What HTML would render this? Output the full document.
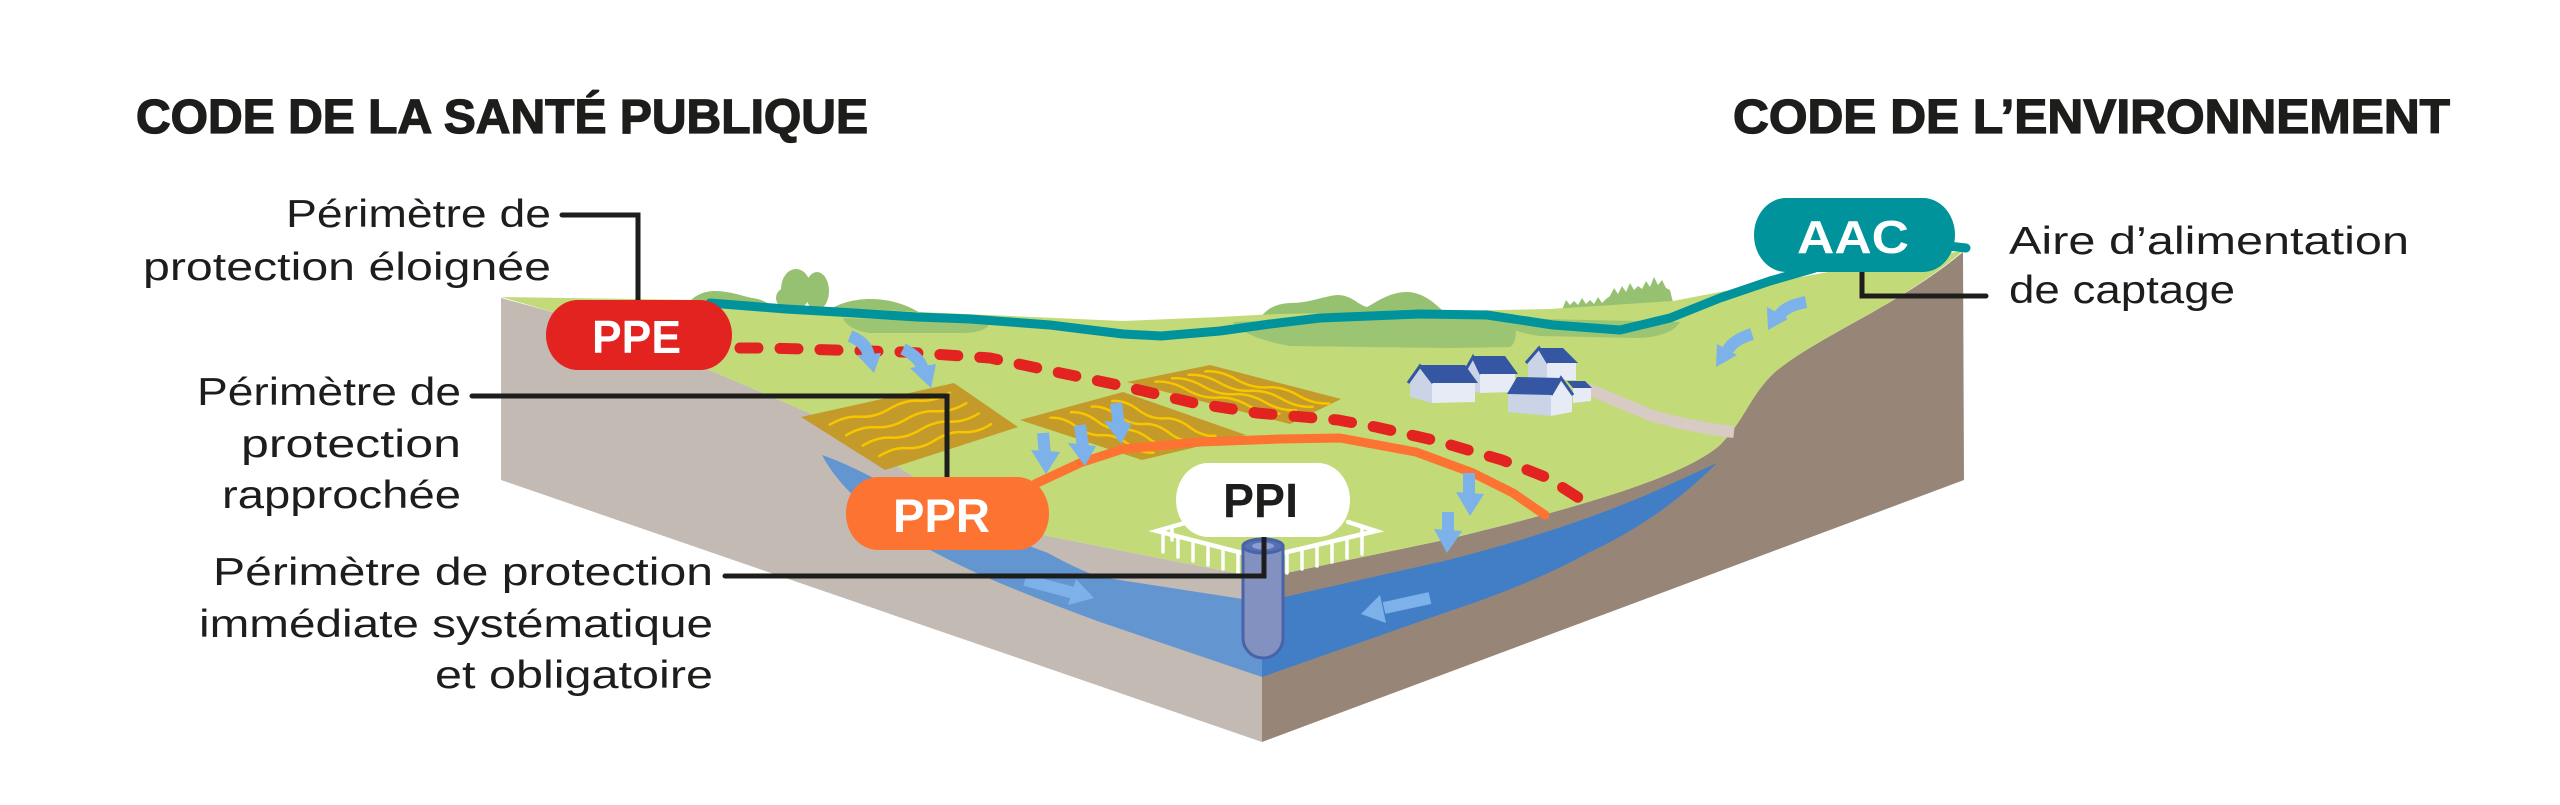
<!DOCTYPE html>
<html>
<head>
<meta charset="utf-8">
<style>
html,body{margin:0;padding:0;background:#ffffff;}
svg{display:block;}
</style>
</head>
<body>
<svg xmlns="http://www.w3.org/2000/svg" width="2560" height="805" viewBox="0 0 2560 805" font-family="'Liberation Sans', sans-serif">
<rect x="0" y="0" width="2560" height="805" fill="#ffffff"/>

<!-- Hills and trees behind horizon -->
<g fill="#96C171">
  <path d="M684,307 C694,295 704,291 715,291 C730,291 742,296 752,298 C760,299 766,301 774,308 Z"/>
  <path d="M826,312 C838,303 855,299 870,299 C890,299 906,304 922,314 Z"/>
  <ellipse cx="796" cy="289" rx="15" ry="20"/>
  <ellipse cx="786" cy="298" rx="10" ry="10"/>
  <ellipse cx="817" cy="291" rx="12" ry="19"/>
  <path d="M1256,324 C1264,311 1272,304 1290,303 C1310,303 1320,297 1337,295 C1352,295 1358,305 1367,307 C1378,301 1390,292 1407,292 C1420,292 1432,300 1444,312 Z"/>
  <polygon points="1560,315 1566,300 1570,305 1574,301 1578,305 1582,298 1586,304 1590,300 1594,304 1598,297 1602,303 1606,299 1610,296 1614,288 1618,294 1622,286 1626,292 1630,283 1634,290 1638,286 1642,289 1646,281 1650,287 1654,277 1658,285 1662,280 1666,288 1670,290 1676,315"/>
</g>

<!-- Left face -->
<polygon fill="#C3BAB3" points="501,298 560,314 650,345 740,383 837,425 903,470 960,505 1048,536 1169,560 1262,578 1262,742 501,480"/>
<!-- Right face -->
<path fill="#978678" d="M1262,578 L1444,540 C1560,512 1680,480 1720,445 C1745,420 1750,395 1775,372 C1820,335 1900,305 1963,252 L1964,480 L1262,742 Z"/>

<!-- Aquifer left face -->
<path fill="#6395D1" d="M822,455 C850,465 880,480 920,505 L1048,553 C1070,565 1085,572 1100,577 L1262,602 L1262,677 L1100,622 C1000,585 940,560 890,525 C860,505 835,480 822,455 Z"/>
<!-- Aquifer right face -->
<path fill="#417EC6" d="M1262,602 L1444,561 Q1560,532 1651,493 L1717,463 Q1660,520 1588,553 Q1530,585 1444,613 L1262,677 Z"/>

<!-- Green surface -->
<path fill="#C2DA77" d="M501,297 L700,300 L920,312 L1123,321 L1220,317 L1276,314 L1450,311 L1550,309 L1673,301 L1720,292 L1850,268 L1963,251 C1900,305 1820,335 1775,372 C1750,395 1745,420 1720,445 C1680,480 1560,512 1444,540 L1262,578 L1169,560 L1048,536 L960,505 L903,470 L837,425 L740,383 L650,345 L560,314 Z"/>

<!-- darker patches below the teal line -->
<g fill="#9CC573">
  <path d="M843,318 L990,322 Q988,332 965,333 L870,333 Q848,330 843,318 Z"/>
  <path d="M1233,322 L1513,314 Q1520,340 1510,347 L1453,348 L1290,346 Q1245,338 1233,322 Z"/>
  <path d="M1497,318 L1680,322 Q1672,336 1640,338 L1540,336 Q1505,331 1497,318 Z"/>
</g>

<!-- road -->
<path d="M1588,389 Q1617,401 1650,415 Q1690,427 1734,432" fill="none" stroke="#D7CBC3" stroke-width="12"/>

<!-- Fields -->
<g fill="#C49A2A">
  <polygon points="801,417 954,383 1018,427 885,470"/>
  <polygon points="1020,420 1123,392 1246,435 1142,460"/>
  <polygon points="1127,382 1210,365 1341,399 1290,424"/>
</g>
<g fill="none" stroke="#F7C600" stroke-width="2.5" stroke-linecap="round">
  <path d="M829.7,424.7 q15,-9 30,-8 t30,-8 t30,-8 t30,-8"/>
  <path d="M846.2,435.2 q15,-9 30,-8 t30,-8 t30,-8 t30,-8"/>
  <path d="M862.7,445.6 q15,-9 29,-8 t29,-8 t29,-8 t29,-8"/>
  <path d="M879.2,456.1 q14,-9 28,-8 t28,-8 t28,-8 t28,-8"/>
  <path d="M1112.2,401 q12.9,-1 25.8,8.7 t25.8,8.7 t25.8,8.7 t25.8,8.7"/>
  <path d="M1091.6,406.6 q12.9,-1 25.8,8.7 t25.8,8.7 t25.8,8.7 t25.8,8.7"/>
  <path d="M1071,412.2 q12.9,-1 25.8,8.7 t25.8,8.7 t25.8,8.7 t25.8,8.7"/>
  <path d="M1050.4,417.8 q12.9,-1 25.8,8.7 t25.8,8.7 t25.8,8.7 t25.8,8.7"/>
  <path d="M1205.2,371.4 q15.5,-1 31,8 t31,8 t31,8 t31,8"/>
  <path d="M1188.6,374.8 q15.5,-1 31,8 t31,8 t31,8 t31,8"/>
  <path d="M1172,378.2 q15.5,-1 31,8 t31,8 t31,8 t31,8"/>
  <path d="M1155.4,381.6 q15.5,-1 31,8 t31,8 t31,8 t31,8"/>
</g>

<!-- Houses -->
<g>
  <polygon fill="#CBD3E7" points="1528,362 1539,349 1547,362 1547,380 1528,377"/>
  <polygon fill="#E6EBF6" points="1547,362 1576,362 1576,380 1547,380"/>
  <polygon fill="#3456A3" points="1539,348 1563,348 1578,363 1547,363"/>
  <polyline fill="none" stroke="#3456A3" stroke-width="3" points="1526,363 1539,348 1548,363"/>
  <polygon fill="#CBD3E7" points="1467,370 1473,357 1480,373 1480,393 1467,390"/>
  <polygon fill="#E6EBF6" points="1480,373 1515,373 1515,392 1480,393"/>
  <polygon fill="#3456A3" points="1473,356 1505,356 1518,374 1480,374"/>
  <polyline fill="none" stroke="#3456A3" stroke-width="3" points="1465,371 1473,357 1481,374"/>
  <polygon fill="#CBD3E7" points="1410,382 1421,368 1432,382 1432,403 1410,397"/>
  <polygon fill="#E6EBF6" points="1432,382 1475,382 1475,402 1432,403"/>
  <polygon fill="#3456A3" points="1420,365 1465,365 1478,383 1432,383"/>
  <polyline fill="none" stroke="#3456A3" stroke-width="3" points="1408,383 1420,366 1433,383"/>
  <polygon fill="#3456A3" points="1567,381 1585,381 1592,388 1573,388"/>
  <polygon fill="#E6EBF6" points="1573,388 1591,388 1591,401 1573,403"/>
  <polygon fill="#CBD3E7" points="1508,394 1551,394 1551,416 1508,412"/>
  <polygon fill="#E6EBF6" points="1551,394 1561,380 1572,394 1572,412 1551,416"/>
  <polygon fill="#3456A3" points="1507,394 1517,377 1561,378 1552,395"/>
  <polyline fill="none" stroke="#3456A3" stroke-width="3" points="1551,395 1561,378 1573,395"/>
</g>

<!-- Teal AAC line -->
<polyline fill="none" stroke="#00939B" stroke-width="9" stroke-linejoin="round" stroke-linecap="round"
  points="710,303 786,309 855,313 917,317 970,319 1050,325 1123,334 1161,336 1220,331 1270,324 1320,318 1420,314 1487,315 1553,325 1620,330 1670,318 1720,298 1770,281 1815,268"/>
<path d="M1948,246 L1966,248" stroke="#00939B" stroke-width="9" stroke-linecap="round" fill="none"/>

<!-- Red dashed PPE line -->
<path fill="none" stroke="#E2231F" stroke-width="11" stroke-linecap="round" stroke-dasharray="18 22"
  d="M740,348 L766,348 L903,352 L990,358 L1056,372 L1118,385 L1194,403 L1257,413 L1338,420 L1376,427 L1433,440 L1444,443 L1502,460 L1548,478 L1585,502"/>

<!-- Orange PPR line -->
<polyline fill="none" stroke="#FD7332" stroke-width="9" stroke-linejoin="round" stroke-linecap="round"
  points="1035,484 1080,463 1123,449 1200,442 1280,439 1340,438 1416,452 1473,473 1513,493 1545,515"/>

<!-- Arrows -->
<g fill="#7CB1E9" stroke="none">
  <polygon points="1031,450 1060,452 1046,474"/>
  <polygon points="1068,443 1096,446 1085,466"/>
  <polygon points="1104,421 1132,423 1121,444"/>
  <polygon points="1456,492 1484,494 1470,516"/>
  <polygon points="1434,529 1462,531 1447,553"/>
  <polygon points="1068,605 1076,579 1094,598"/>
  <polygon points="1386,623 1380,595 1361,614"/>
  <polygon points="857,355 881,353 874,373"/>
  <polygon points="910,368 936,364 931,388"/>
  <polygon points="1788,319 1767,307 1768,330"/>
  <polygon points="1737,355 1717,344 1716,367"/>
</g>
<g fill="none" stroke="#7CB1E9" stroke-width="12">
  <path d="M1043,433 L1045,455"/>
  <path d="M1080,425 L1083,447"/>
  <path d="M1116,403 L1119,425"/>
  <path d="M1469,473 L1469,495"/>
  <path d="M1448,512 L1448,532"/>
  <path d="M1025,580 L1074,593"/>
  <path d="M1430,598 L1384,608"/>
  <path d="M850,336 Q868,343 869,358"/>
  <path d="M903,349 Q920,357 923,370"/>
  <path d="M1806,302 Q1785,306 1779,316"/>
  <path d="M1752,334 Q1733,340 1728,350"/>
</g>

<!-- Fence -->
<g stroke="#ffffff" fill="none" stroke-linecap="round">
  <polyline stroke-width="4.5" points="1188,522 1157,531 1262,558 1376,531 1348,522"/>
  <g stroke-width="3.5">
    <line x1="1163" y1="532.5" x2="1163" y2="552"/>
    <line x1="1178" y1="536.4" x2="1178" y2="557"/>
    <line x1="1193" y1="540.3" x2="1193" y2="561"/>
    <line x1="1208" y1="544.1" x2="1208" y2="565"/>
    <line x1="1223" y1="548" x2="1223" y2="569"/>
    <line x1="1238" y1="551.8" x2="1238" y2="573"/>
    <line x1="1253" y1="555.7" x2="1253" y2="577"/>
    <line x1="1272" y1="555.6" x2="1272" y2="577"/>
    <line x1="1287" y1="552.1" x2="1287" y2="573"/>
    <line x1="1302" y1="548.5" x2="1302" y2="569"/>
    <line x1="1317" y1="545" x2="1317" y2="566"/>
    <line x1="1332" y1="541.4" x2="1332" y2="562"/>
    <line x1="1347" y1="537.9" x2="1347" y2="558"/>
    <line x1="1362" y1="534.3" x2="1362" y2="554"/>
    <line x1="1172" y1="527" x2="1172" y2="540"/>
    <line x1="1362" y1="526" x2="1362" y2="536"/>
  </g>
</g>

<!-- Well pipe -->
<path d="M1243,546 L1243,638 A20,20 0 0 0 1283,638 L1283,546 Z" fill="#8391C0" stroke="#4A63A8" stroke-width="3"/>
<ellipse cx="1263" cy="546" rx="20" ry="7" fill="#5770B5" stroke="#4A63A8" stroke-width="3"/>
<ellipse cx="1263" cy="546" rx="11" ry="3.5" fill="#8C9ED0"/>

<!-- Connectors -->
<g fill="none" stroke="#1D1D1B" stroke-width="5" stroke-linejoin="miter">
  <path d="M562,215 L638,215 L638,302" stroke-linecap="round"/>
  <path d="M472,396 L947,396 L947,480" stroke-linecap="round"/>
  <path d="M725,576 L1264,576 L1264,535" stroke-linecap="round"/>
  <path d="M1862,270 L1862,296 L1986,296" stroke-linecap="round"/>
</g>

<!-- Pills -->
<rect x="546" y="300" width="186" height="70" rx="32" ry="35" fill="#E2231F"/>
<text x="592" y="353" font-size="46" font-weight="bold" fill="#ffffff" textLength="89" lengthAdjust="spacingAndGlyphs">PPE</text>

<rect x="846" y="477" width="203" height="73" rx="32" ry="36" fill="#FD7332"/>
<text x="893" y="532" font-size="47" font-weight="bold" fill="#ffffff" textLength="97" lengthAdjust="spacingAndGlyphs">PPR</text>

<rect x="1176" y="463" width="174" height="74" rx="32" ry="37" fill="#ffffff"/>
<text x="1223" y="517" font-size="48" font-weight="bold" fill="#1D1D1B" textLength="75" lengthAdjust="spacingAndGlyphs">PPI</text>

<rect x="1754" y="198" width="201" height="74" rx="32" ry="37" fill="#00939B"/>
<text x="1797" y="253" font-size="46" font-weight="bold" fill="#ffffff" textLength="112" lengthAdjust="spacingAndGlyphs">AAC</text>

<!-- Titles -->
<g fill="#1D1D1B" stroke="#1D1D1B" stroke-width="1.3" font-weight="bold" font-size="48">
  <text x="136" y="133" textLength="732" lengthAdjust="spacingAndGlyphs">CODE DE LA SANTÉ PUBLIQUE</text>
  <text x="1733" y="133" textLength="717" lengthAdjust="spacingAndGlyphs">CODE DE L’ENVIRONNEMENT</text>
</g>

<!-- Labels -->
<g fill="#1D1D1B" font-size="39">
  <text x="286" y="227" textLength="265" lengthAdjust="spacingAndGlyphs">Périmètre de</text>
  <text x="143" y="280" textLength="408" lengthAdjust="spacingAndGlyphs">protection éloignée</text>

  <text x="197" y="405" textLength="264" lengthAdjust="spacingAndGlyphs">Périmètre de</text>
  <text x="241" y="457" textLength="220" lengthAdjust="spacingAndGlyphs">protection</text>
  <text x="222" y="508" textLength="239" lengthAdjust="spacingAndGlyphs">rapprochée</text>

  <text x="213" y="585" textLength="500" lengthAdjust="spacingAndGlyphs">Périmètre de protection</text>
  <text x="199" y="637" textLength="514" lengthAdjust="spacingAndGlyphs">immédiate systématique</text>
  <text x="435" y="688" textLength="278" lengthAdjust="spacingAndGlyphs">et obligatoire</text>

  <text x="2009" y="254" textLength="400" lengthAdjust="spacingAndGlyphs">Aire d’alimentation</text>
  <text x="2009" y="303" textLength="226" lengthAdjust="spacingAndGlyphs">de captage</text>
</g>
</svg>
</body>
</html>
